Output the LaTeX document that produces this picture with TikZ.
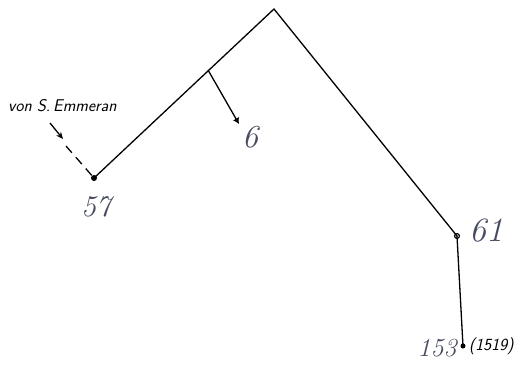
\documentclass[tikz,border=0pt]{standalone}
\usetikzlibrary{arrows.meta}
\definecolor{hand}{RGB}{70,75,95}
\begin{document}
\begin{tikzpicture}[x=1pt,y=-1pt,
  edge/.style={line width=1.3pt,black},
  dot/.style={circle,fill=black,inner sep=0pt,minimum size=6pt},
  ring/.style={circle,draw=black,fill=gray!60,line width=1pt,inner sep=0pt,minimum size=5pt},
  handlbl/.style={text=hand,font=\fontsize{30}{30}\selectfont\itshape,inner sep=0pt},
  printlbl/.style={font=\sffamily\itshape\fontsize{17}{17}\selectfont,inner sep=0pt}]
\useasboundingbox (0,0) rectangle (523,372);
\coordinate (apex) at (274,9);
\coordinate (br) at (208,70);
\coordinate (six) at (239,124);
\node[dot] (n57) at (94,178) {};
\node[ring] (n61) at (457,236) {};
\node[dot,minimum size=5pt] (n153) at (463,346) {};
\draw[edge,line join=miter] (n57.center) -- (apex) -- (n61.center) -- (n153.center);
\draw[edge,-{Latex[length=6pt,width=7pt]}] (br) -- (six);
% labels
\node[printlbl,anchor=west] (von) at (8,106) {von S.\,Emmeran};
\coordinate (a1) at (50,123);
\coordinate (a2) at (63,139);
\coordinate (d1) at (66,146);
\draw[line width=1.3pt,-{Stealth[length=7pt,width=6pt]}] (a1) -- (a2);
\draw[line width=1.3pt,dash pattern=on 9pt off 6pt] (d1) -- (n57);
\node[handlbl] (l57) at (96,207) {57};
\node[handlbl,font=\fontsize{32}{32}\selectfont\itshape] (l6) at (250,137) {6};
\node[handlbl,font=\fontsize{34}{34}\selectfont\itshape] (l61) at (486,231) {61};
\node[handlbl,font=\fontsize{26}{26}\selectfont\itshape] (l153) at (437,348) {153};
\node[printlbl,anchor=west] (yr) at (469,346) {(1519)};
\end{tikzpicture}
\end{document}
